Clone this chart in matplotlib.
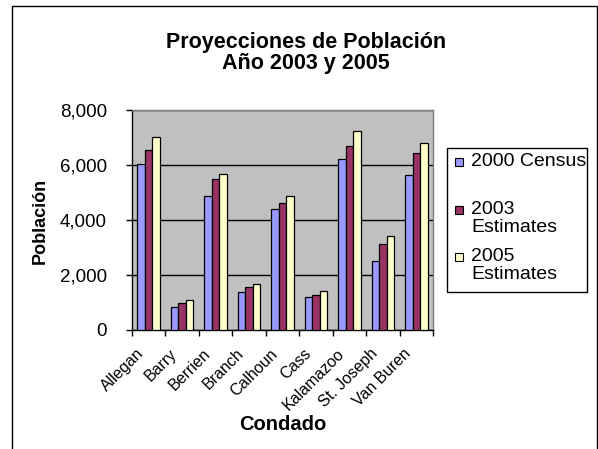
import numpy as np
import matplotlib
matplotlib.use("Agg")
import matplotlib.pyplot as plt
from matplotlib.patches import Rectangle

plt.rcParams['font.family'] = ['Liberation Sans', 'DejaVu Sans']

condados = ['Allegan', 'Barry', 'Berrien', 'Branch', 'Calhoun', 'Cass',
            'Kalamazoo', 'St. Joseph', 'Van Buren']
census_2000 = [6030, 850, 4890, 1370, 4400, 1210, 6220, 2500, 5650]
est_2003 = [6550, 970, 5490, 1580, 4610, 1260, 6700, 3110, 6440]
est_2005 = [7030, 1090, 5690, 1660, 4890, 1420, 7240, 3410, 6800]
series_labels = ['2000 Census', '2003\nEstimates', '2005\nEstimates']
colors = ['#9999FF', '#993366', '#FFFFCC']

W, H = 598, 449

def fx(x):
    return x / W

def fy(y):
    return 1 - y / H

fig = plt.figure(figsize=(W / 100, H / 100), dpi=100)
fig.patch.set_facecolor('white')

# outer chart border
fig.patches.append(Rectangle((fx(12), -0.05), fx(597) - fx(12), fy(6) + 0.05,
                             transform=fig.transFigure, fill=False,
                             edgecolor='black', linewidth=1.0))

ax = fig.add_axes([fx(132), fy(330), fx(433) - fx(132), (330 - 110) / H])
ax.set_facecolor('#C0C0C0')

x = np.arange(len(condados))
w = 0.225
for i, vals in enumerate([census_2000, est_2003, est_2005]):
    ax.bar(x + (i - 1) * w, vals, width=w, color=colors[i],
           edgecolor='black', linewidth=0.9, zorder=3)

ax.set_xlim(-0.5, len(condados) - 0.5)
ax.set_ylim(0, 8000)
ax.set_yticks([0, 2000, 4000, 6000, 8000])
ax.set_yticklabels(['{:,}'.format(v) for v in [0, 2000, 4000, 6000, 8000]],
                   fontsize=13.5)
ax.yaxis.grid(True, color='black', linewidth=1.0, zorder=1)
ax.set_axisbelow(True)

# ticks between categories; labels sit a bit left of each category centre,
# like Excel's rotated category labels
ax.set_xticks(np.arange(len(condados) + 1) - 0.5)
ax.set_xticklabels([])
ax.set_xticks(x - 0.38, minor=True)
ax.set_xticklabels(condados, minor=True, rotation=45, ha='right',
                   rotation_mode='anchor', fontsize=11.5)
ax.tick_params(axis='x', which='minor', length=0, pad=11.5)
ax.tick_params(axis='x', which='major', length=4, width=1, direction='out')
ax.tick_params(axis='y', length=4, width=1, direction='out', pad=14)

for s in ['top', 'right']:
    ax.spines[s].set_color('#808080')
    ax.spines[s].set_linewidth(1.0)
for s in ['left', 'bottom']:
    ax.spines[s].set_color('black')
    ax.spines[s].set_linewidth(1.0)

fig.text(fx(306), fy(48), 'Proyecciones de Población', ha='center',
         va='baseline', fontsize=15.5, fontweight='bold')
fig.text(fx(306), fy(69), 'Año 2003 y 2005', ha='center',
         va='baseline', fontsize=15.5, fontweight='bold')
fig.text(fx(40), fy(221), 'Población', rotation=90, ha='center',
         va='center', fontsize=13, fontweight='bold')
fig.text(fx(283), fy(425), 'Condado', ha='center', va='center',
         fontsize=14.5, fontweight='bold')

# legend box
fig.patches.append(Rectangle((fx(447), fy(292)), fx(587) - fx(447),
                             (292 - 148) / H, transform=fig.transFigure,
                             facecolor='white', edgecolor='black',
                             linewidth=1.0))
line_y = [162, 210, 257]
for lab, c, yy in zip(series_labels, colors, line_y):
    fig.patches.append(Rectangle((fx(455), fy(yy + 4)), 8 / W, 8 / H,
                                 transform=fig.transFigure, facecolor=c,
                                 edgecolor='black', linewidth=0.8))
    fig.text(fx(471), fy(yy - 9), lab, ha='left', va='top', fontsize=14,
             linespacing=1.1)

fig.savefig('out.png', dpi=100)
